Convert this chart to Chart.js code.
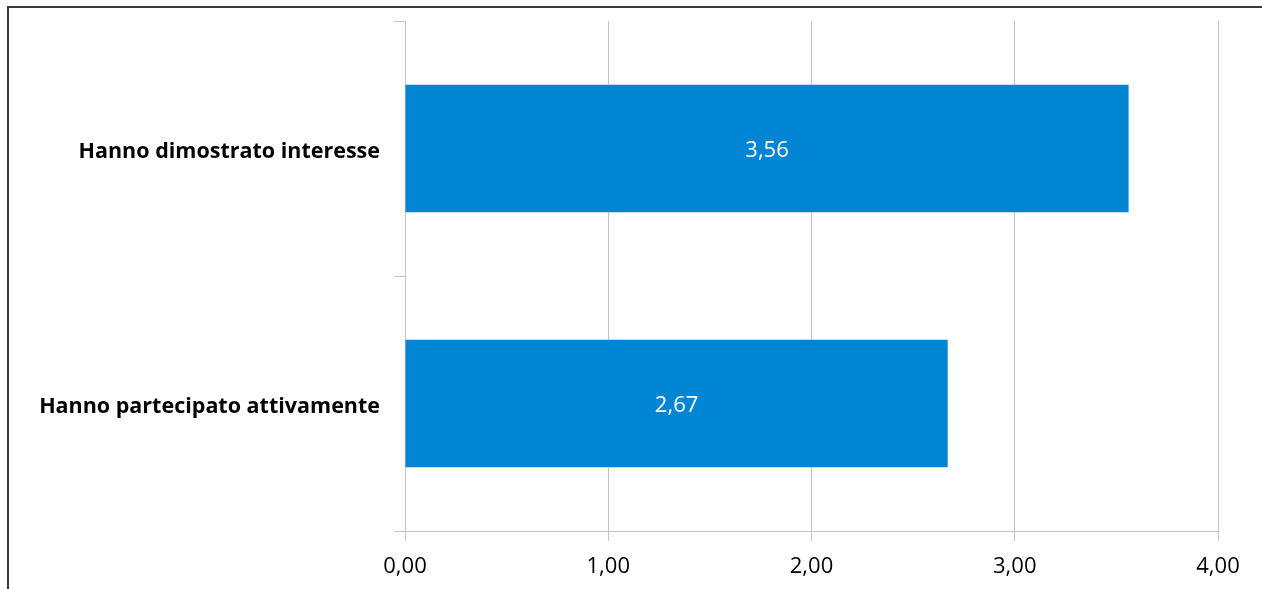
<!DOCTYPE html>
<html>
<head>
<meta charset="utf-8">
<script src="https://cdn.jsdelivr.net/npm/chart.js@4/dist/chart.umd.min.js"></script>
<style>
  html, body { margin: 0; padding: 0; background: #fff; }
  #wrap { width: 1262px; height: 589px; position: relative; }
</style>
</head>
<body>
<div id="wrap"><canvas id="chart"></canvas></div>
<script>
const categories = ["Hanno dimostrato interesse", "Hanno partecipato attivamente"];
const values = [3.56, 2.67];
const xTicks = [0, 1, 2, 3, 4];

const FONT = "'Open Sans', Lato, sans-serif";

function fmt(v) {
  return v.toFixed(2).replace(".", ",");
}

// frame around the chart (left and top edges visible)
const framePlugin = {
  id: "frame",
  afterDraw(chart) {
    const ctx = chart.ctx;
    ctx.save();
    ctx.strokeStyle = "#3a3a3a";
    ctx.lineWidth = 2;
    ctx.beginPath();
    ctx.moveTo(8, 589);
    ctx.lineTo(8, 7);
    ctx.lineTo(1262, 7);
    ctx.stroke();
    ctx.restore();
  }
};

// value labels centered inside the bars
const labelPlugin = {
  id: "barLabels",
  afterDatasetsDraw(chart) {
    const ctx = chart.ctx;
    const meta = chart.getDatasetMeta(0);
    ctx.save();
    ctx.fillStyle = "#ffffff";
    ctx.font = "22px " + FONT;
    ctx.textAlign = "center";
    ctx.textBaseline = "middle";
    meta.data.forEach((bar, i) => {
      const cx = (bar.x + bar.base) / 2;
      ctx.fillText(fmt(values[i]), cx, bar.y + 2);
    });
    ctx.restore();
  }
};

new Chart(document.getElementById("chart"), {
  type: "bar",
  data: {
    labels: categories,
    datasets: [{
      data: values,
      backgroundColor: "#0084d4",
      barPercentage: 0.5,
      categoryPercentage: 1.0
    }]
  },
  options: {
    indexAxis: "y",
    responsive: true,
    maintainAspectRatio: false,
    animation: false,
    layout: { padding: { top: 21, right: 44, left: 0, bottom: 0 } },
    plugins: {
      legend: { display: false },
      tooltip: { enabled: false }
    },
    scales: {
      x: {
        min: 0,
        max: 4,
        afterBuildTicks(scale) {
          scale.ticks = xTicks.map(v => ({ value: v }));
        },
        afterFit(scale) {
          scale.height = 58;
          scale.paddingLeft = 0;
          scale.paddingRight = 0;
        },
        grid: {
          color: "#c4c4c4",
          lineWidth: 1,
          tickLength: 10,
          drawOnChartArea: true
        },
        border: { color: "#c4c4c4" },
        ticks: {
          color: "#000",
          font: { family: FONT, size: 22 },
          padding: 13,
          maxRotation: 0,
          callback: v => fmt(v)
        }
      },
      y: {
        afterFit(scale) {
          scale.width = 405;
          scale.paddingTop = 0;
          scale.paddingBottom = 0;
        },
        grid: {
          offset: true,
          drawOnChartArea: false,
          color: "#c4c4c4",
          tickLength: 11
        },
        border: { color: "#c4c4c4" },
        ticks: {
          color: "#000",
          font: { family: FONT, size: 21.5, weight: "bold" },
          padding: 14,
          labelOffset: 3
        }
      }
    }
  },
  plugins: [framePlugin, labelPlugin]
});
</script>
</body>
</html>
